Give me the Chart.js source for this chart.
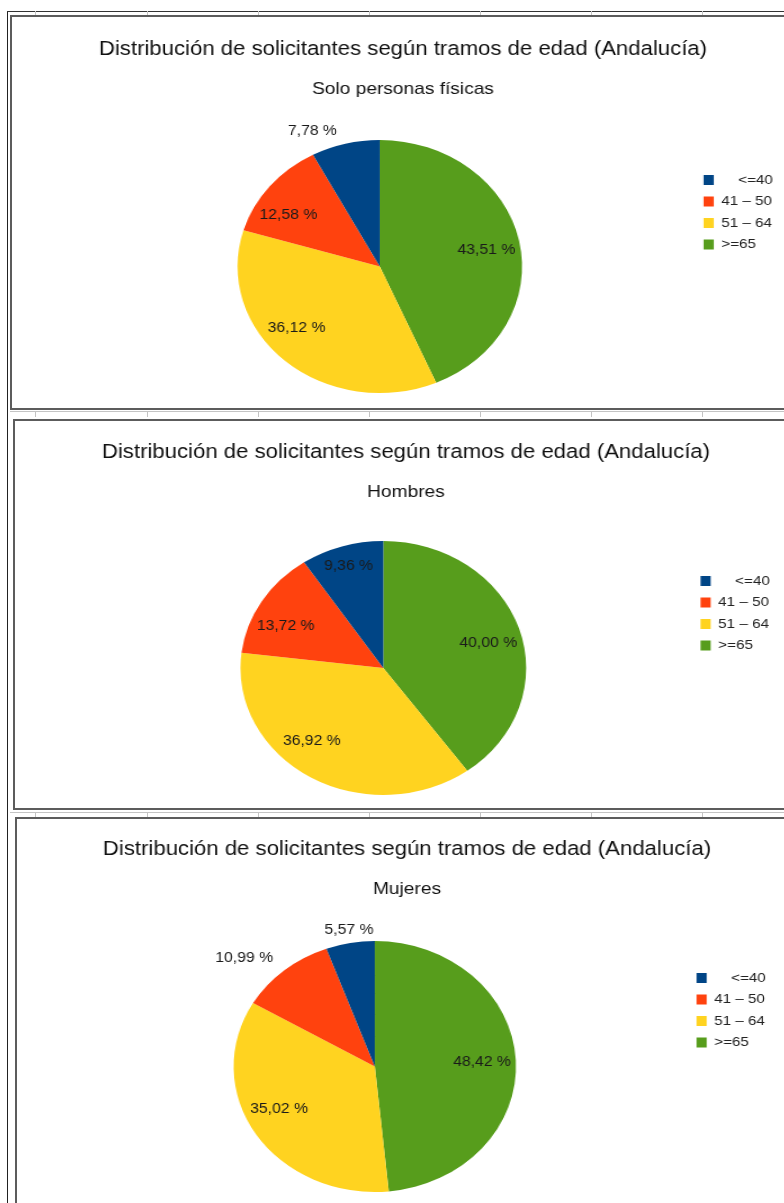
<!DOCTYPE html>
<html>
<head>
<meta charset="utf-8">
<script src="https://cdn.jsdelivr.net/npm/chart.js@4.4.0/dist/chart.umd.min.js"></script>
<style>
body { margin:0; background:#fff; overflow:hidden; width:784px; height:1203px; position:relative; }
.panel { position:absolute; border:2px solid #5c5c5c; background:#fff; width:790px; overflow:hidden; }
.stretch { position:absolute; left:0; top:0; transform-origin:0 0; transform:scaleX(1.125); }
.linea { position:absolute; background:#c4c4c4; }
</style>
</head>
<body>

<div class="linea" style="left:7px;top:11px;width:1px;height:1192px;background:#222"></div>
<div class="linea" style="left:7px;top:11px;width:777px;height:1px;background:#333"></div>
<div class="linea" style="left:10px;top:411px;width:774px;height:1px"></div>
<div class="linea" style="left:10px;top:812px;width:774px;height:1px"></div>
<div id="ticks"></div>

<div class="panel" style="left:10px;top:15px;height:391px">
  <div class="stretch"><canvas id="c1" width="695" height="391"></canvas></div>
</div>
<div class="panel" style="left:13px;top:419px;height:387px">
  <div class="stretch"><canvas id="c2" width="695" height="387"></canvas></div>
</div>
<div class="panel" style="left:15px;top:817px;height:400px">
  <div class="stretch"><canvas id="c3" width="693" height="384"></canvas></div>
</div>

<script>
// datos (porcentajes por tramo de edad)
const categorias = ['<=40', '41 – 50', '51 – 64', '>=65'];
const colores = ['#004586', '#ff420e', '#ffd320', '#579d1c'];
const fisicas = [7.78, 12.58, 36.12, 43.51];
const hombres = [9.36, 13.72, 36.92, 40.00];
const mujeres = [5.57, 10.99, 35.02, 48.42];
const titulo = 'Distribución de solicitantes según tramos de edad (Andalucía)';

// marcas de la rejilla de la hoja
var ticksHtml = '';
[35, 147, 258, 369, 480, 591, 702].forEach(function(x){
  [11, 411, 812].forEach(function(y){
    ticksHtml += '<div class="linea" style="left:' + x + 'px;top:' + y + 'px;width:1px;height:6px"></div>';
  });
});
document.getElementById('ticks').innerHTML = ticksHtml;

const fuente = '"Liberation Sans", Arial, sans-serif';

// hueco vacio a la izquierda del area del grafico (desplaza la tarta, no el titulo)
const hueco = {
  id: 'hueco',
  beforeInit(chart, args, opts) {
    Chart.layouts.addBox(chart, {
      position: 'left', weight: 0, fullSize: false, options: {},
      left: 0, top: 0, right: 0, bottom: 0, width: 0, height: 0,
      isHorizontal() { return false; },
      update(maxWidth, maxHeight) { this.width = opts.ancho; this.height = maxHeight; },
      draw() {}
    });
  }
};

// etiquetas de porcentaje sobre los sectores
const etiquetas = {
  id: 'etiquetas',
  afterDatasetsDraw(chart, args, opts) {
    const ctx = chart.ctx;
    const meta = chart.getDatasetMeta(0);
    const valores = chart.data.datasets[0].data;
    const nombres = chart.data.labels;
    ctx.save();
    ctx.font = '14px ' + fuente;
    ctx.fillStyle = '#1a1a1a';
    meta.data.forEach(function(arc, i){
      const p = arc.getProps(['x', 'y', 'startAngle', 'endAngle', 'outerRadius'], true);
      const a = (p.startAngle + p.endAngle) / 2;
      let dx = Math.cos(a), dy = Math.sin(a);
      const txt = valores[i].toFixed(2).replace('.', ',') + ' %';
      if (opts.fuera.indexOf(nombres[i]) >= 0) {
        const r = p.outerRadius * 1.05;
        ctx.textAlign = Math.abs(dx) < 0.2 ? 'center' : (dx < 0 ? 'right' : 'left');
        ctx.textBaseline = dy < -0.2 ? 'bottom' : (dy > 0.2 ? 'top' : 'middle');
        ctx.fillText(txt, p.x + dx * r - (dx < -0.2 ? 6 : 0), p.y + dy * r);
      } else {
        // angulo respecto a la horizontal, algo aplanado como en LibreOffice
        const ang = Math.atan2(dy, dx);
        let h = dx >= 0 ? ang : (ang > 0 ? Math.PI - ang : -Math.PI - ang);
        const plano = Math.abs(h) < 1.13;
        if (plano) h = h * 0.82;
        dx = (dx >= 0 ? 1 : -1) * Math.cos(h);
        dy = Math.sin(h);
        const r = p.outerRadius * (plano ? 0.76 : 0.84);
        ctx.textAlign = 'center';
        ctx.textBaseline = 'middle';
        ctx.fillText(txt, p.x + dx * r, p.y + dy * r);
      }
    });
    ctx.restore();
  }
};

function tarta(id, subtitulo, valores, cfg) {
  // LibreOffice dibuja en sentido antihorario: se invierte el orden
  new Chart(document.getElementById(id), {
    type: 'pie',
    data: {
      labels: categorias.slice().reverse(),
      datasets: [{
        data: valores.slice().reverse(),
        backgroundColor: colores.slice().reverse(),
        borderWidth: 0
      }]
    },
    options: {
      responsive: false,
      animation: false,
      events: [],
      layout: { padding: { left: cfg.padL, right: cfg.padR, top: 0, bottom: cfg.padB } },
      plugins: {
        title: {
          display: true, text: titulo, color: '#111',
          font: { family: fuente, size: 19.7, weight: 'normal' },
          padding: { top: cfg.titT, bottom: 8 }
        },
        subtitle: {
          display: true, text: subtitulo, color: '#111',
          font: { family: fuente, size: 17, weight: 'normal' },
          padding: { top: 9.7, bottom: cfg.subB }
        },
        legend: {
          position: 'right', align: 'start', reverse: true, fullSize: false,
          title: { display: true, text: ' ', font: { size: 1 }, padding: { top: cfg.legT, bottom: 0 } },
          labels: {
            boxWidth: 9, boxHeight: 10, padding: 8, color: '#222',
            font: { family: fuente, size: 13.5 },
            generateLabels(chart) {
              const items = Chart.overrides.pie.plugins.legend.labels.generateLabels(chart);
              items.forEach(function(it){
                if (it.text === '<=40') it.text = '    <=40';
                it.lineWidth = 0;
              });
              return items;
            }
          }
        },
        tooltip: { enabled: false },
        hueco: { ancho: cfg.hueco },
        etiquetas: { fuera: cfg.fuera }
      }
    },
    plugins: [hueco, etiquetas]
  });
}

tarta('c1', 'Solo personas físicas', fisicas,
  { padL: 8.8, padR: 8.7, hueco: 38.3, padB: 15, titT: 21.1, subB: 40.2, legT: 24, fuera: ['<=40'] });
tarta('c2', 'Hombres', hombres,
  { padL: 14.2, padR: 14.1, hueco: 39.2, padB: 13, titT: 20.1, subB: 38.2, legT: 24, fuera: [] });
tarta('c3', 'Mujeres', mujeres,
  { padL: 17.7, padR: 17.4, hueco: 22.3, padB: 11, titT: 19.1, subB: 41.2, legT: 21, fuera: ['<=40', '41 – 50'] });
</script>
</body>
</html>
